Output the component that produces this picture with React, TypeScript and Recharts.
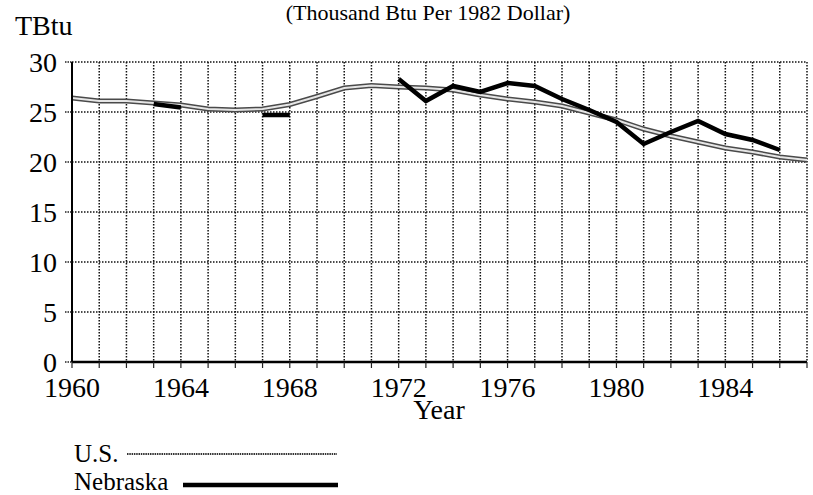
import React from 'react';
import { LineChart, Line, XAxis, YAxis, CartesianGrid } from 'recharts';

const YEARS = [
  1960, 1961, 1962, 1963, 1964, 1965, 1966, 1967, 1968, 1969,
  1970, 1971, 1972, 1973, 1974, 1975, 1976, 1977, 1978, 1979,
  1980, 1981, 1982, 1983, 1984, 1985, 1986, 1987,
];
const US = [
  26.4, 26.1, 26.1, 25.9, 25.7, 25.3, 25.2, 25.3, 25.75, 26.55,
  27.4, 27.65, 27.5, 27.4, 27.2, 26.7, 26.3, 26.0, 25.6, 24.9,
  24.2, 23.3, 22.6, 22.0, 21.4, 21.0, 20.5, 20.2,
];
const NEBRASKA: (number | null)[] = [
  null, null, null, 25.8, 25.45, null, null, 24.7, 24.7, null,
  null, null, 28.3, 26.1, 27.6, 27.0, 27.9, 27.6, 26.3, 25.2,
  24.0, 21.8, 23.0, 24.1, 22.8, 22.2, 21.2, null,
];
const X_LABELS = [1960, 1964, 1968, 1972, 1976, 1980, 1984];
const Y_TICKS = [0, 5, 10, 15, 20, 25, 30];

const TITLE = '(Thousand Btu Per 1982 Dollar)';
const Y_UNIT = 'TBtu';
const X_TITLE = 'Year';
const SERIES_NAMES = ['U.S.', 'Nebraska'];

const data = YEARS.map((year, i) => ({ year, us: US[i], nebraska: NEBRASKA[i] }));

const FONT = '"Liberation Serif", "Times New Roman", serif';

export default function App() {
  return (
    <div style={{ position: 'absolute', left: 0, top: 0, width: 813, height: 495, background: '#fff' }}>
      <LineChart
        width={813}
        height={495}
        data={data}
        margin={{ top: 62, right: 6, left: 0, bottom: 93 }}
      >
        <CartesianGrid
          stroke="#111"
          strokeWidth={1.5}
          strokeDasharray="1.5 1.5"
          horizontalValues={Y_TICKS}
          verticalValues={YEARS}
        />
        <XAxis
          dataKey="year"
          type="number"
          domain={[1960, 1987]}
          ticks={YEARS}
          interval={0}
          height={40}
          tickFormatter={(v: number) => (X_LABELS.includes(v) ? String(v) : '')}
          axisLine={{ stroke: '#000', strokeWidth: 2.5 }}
          tickLine={{ stroke: '#222', strokeWidth: 1.2 }}
          tickSize={6}
          tickMargin={9}
          tick={{ fill: '#000', fontSize: 28, fontFamily: FONT }}
        />
        <YAxis
          type="number"
          domain={[0, 30]}
          ticks={Y_TICKS}
          interval={0}
          width={72}
          axisLine={{ stroke: '#000', strokeWidth: 2 }}
          tickLine={{ stroke: '#222', strokeWidth: 1.3, strokeDasharray: '1.5 1' }}
          tickSize={7}
          tickMargin={8}
          tick={{ fill: '#000', fontSize: 28, fontFamily: FONT }}
        />
        <Line
          dataKey="us"
          name={SERIES_NAMES[0]}
          stroke="#4a4a4a"
          strokeWidth={5}
          dot={false}
          isAnimationActive={false}
        />
        <Line
          dataKey="us"
          name="us-inner"
          legendType="none"
          stroke="#e6e6e6"
          strokeWidth={2}
          dot={false}
          isAnimationActive={false}
        />
        <Line
          dataKey="nebraska"
          name={SERIES_NAMES[1]}
          stroke="#000"
          strokeWidth={4.5}
          dot={false}
          connectNulls={false}
          isAnimationActive={false}
        />
      </LineChart>
      <svg
        width={813}
        height={495}
        style={{ position: 'absolute', left: 0, top: 0, pointerEvents: 'none' }}
      >
        <text x={428} y={20} textAnchor="middle" fontSize={22} fontFamily={FONT} fill="#000">
          {TITLE}
        </text>
        <text x={15} y={35} fontSize={28} fontFamily={FONT} fill="#000">
          {Y_UNIT}
        </text>
        <text x={439} y={419} textAnchor="middle" fontSize={28} fontFamily={FONT} fill="#000">
          {X_TITLE}
        </text>
        <text x={74} y={462} fontSize={25} fontFamily={FONT} fill="#000">
          {SERIES_NAMES[0]}
        </text>
        <line x1={127} y1={454} x2={337} y2={454} stroke="#333" strokeWidth={2} strokeDasharray="1.5 0.8" />
        <text x={74} y={490} fontSize={25} fontFamily={FONT} fill="#000">
          {SERIES_NAMES[1]}
        </text>
        <line x1={183} y1={485} x2={338} y2={485} stroke="#000" strokeWidth={4.5} />
      </svg>
    </div>
  );
}
